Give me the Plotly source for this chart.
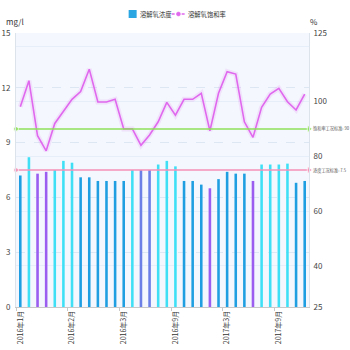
import plotly.graph_objects as go

# ---- data ----
concentration = [7.2, 8.2, 7.3, 7.4, 7.5, 8.0, 7.9, 7.1, 7.1, 6.9, 6.9, 6.9, 6.9, 7.5, 7.5, 7.5, 7.8,
                 8.0, 7.7, 6.9, 6.9, 6.7, 6.5, 7.0, 7.4, 7.3, 7.3, 6.9, 7.8, 7.8, 7.8, 7.85, 6.8, 6.9]
saturation = [98.1, 107.6, 87.5, 82.0, 92.0, 96.3, 100.8, 103.6, 111.8, 99.8, 99.8, 100.8, 90.0,
              90.0, 84.0, 87.8, 92.6, 99.7, 95.0, 100.8, 100.8, 103.0, 89.3, 103.0, 110.9, 110.0,
              92.6, 86.9, 97.9, 102.7, 104.8, 99.9, 96.9, 102.7]
tick_labels = ["2016年1月", "2016年2月", "2016年3月", "2016年9月", "2017年3月", "2017年9月"]
series_names = ["溶解氧浓度", "溶解氧饱和率"]
tick_every = 6
conc_standard = 7.5
sat_standard = 90
left_ticks = [0, 3, 6, 9, 12, 15]
right_ticks = [25, 40, 60, 80, 100, 120, 125]
right_tick_text = ["25", "40", "60", "80", "100", "", "125"]

# ---- styles ----
BLUE, CYAN, PURPLE, BPURPLE = "#1f9fe2", "#3fe0f6", "#9a5df0", "#6b7fe6"
bar_colors = [BLUE, CYAN, PURPLE, PURPLE, CYAN, CYAN, CYAN, BLUE, BLUE, BLUE, BLUE, BLUE, BLUE,
              CYAN, BPURPLE, BPURPLE, CYAN, CYAN, CYAN, BLUE, BLUE, BLUE, PURPLE, BLUE, BLUE,
              BLUE, BLUE, PURPLE, CYAN, CYAN, CYAN, CYAN, BLUE, BLUE]
LEG_BAR = "#2aa6e3"
LINE = "#e068ee"
FONT = "Noto Sans CJK SC"

W = H = 350
ML, MR, MT, MB = 16.4, 40.7, 33, 43
PW, PH = W - ML - MR, H - MT - MB


def px(xp):
    return (xp - ML) / PW


def py(yp):
    return (H - MB - yp) / PH


n = len(concentration)
x = list(range(n))
tick_pos = [i * tick_every for i in range(len(tick_labels))]
x0, x1 = -0.5, n - 0.5

fig = go.Figure()
fig.add_trace(go.Bar(x=x, y=concentration, name=series_names[0], width=0.3,
                     marker=dict(color=bar_colors, line=dict(width=0)), yaxis="y"))
fig.add_trace(go.Scatter(x=[x0, x1], y=[conc_standard, conc_standard], mode="lines+markers",
                         line=dict(color="#f590b6", width=1.5),
                         marker=dict(symbol=["circle", "triangle-right"], size=[5, 7], color="#f590b6"),
                         cliponaxis=False, yaxis="y", hoverinfo="skip"))
fig.add_trace(go.Scatter(x=x, y=saturation, mode="lines", line=dict(color="rgba(224,104,238,0.15)", width=5),
                         yaxis="y2", hoverinfo="skip"))
fig.add_trace(go.Scatter(x=x, y=saturation, mode="lines", name=series_names[1],
                         line=dict(color=LINE, width=1.6), yaxis="y2"))
fig.add_trace(go.Scatter(x=[x0, x1], y=[sat_standard, sat_standard], mode="lines+markers",
                         line=dict(color="#8ee05a", width=1.5),
                         marker=dict(symbol=["circle", "triangle-right"], size=[5, 7], color="#8ee05a"),
                         cliponaxis=False, yaxis="y2", hoverinfo="skip"))

fig.add_annotation(x=x1, y=sat_standard, xref="x", yref="y2", xanchor="left", xshift=2,
                   text=f"饱和率工况标准: {sat_standard}", showarrow=False,
                   font=dict(size=4.2, color="#555", family=FONT))
fig.add_annotation(x=x1, y=conc_standard, xref="x", yref="y", xanchor="left", xshift=2,
                   text=f"浓度工况标准: {conc_standard}", showarrow=False,
                   font=dict(size=4.2, color="#555", family=FONT))
fig.add_annotation(x=0, y=1, xref="paper", yref="paper", xanchor="right", yanchor="bottom",
                   xshift=10, yshift=4, text="mg/l", showarrow=False,
                   font=dict(size=8, color="#333", family=FONT))
fig.add_annotation(x=1, y=1, xref="paper", yref="paper", xanchor="left", yanchor="bottom",
                   xshift=-1, yshift=4, text="%", showarrow=False,
                   font=dict(size=8, color="#333", family=FONT))

# custom compact legend
fig.add_shape(type="rect", xref="paper", yref="paper", x0=px(129), x1=px(137), y0=py(18), y1=py(10),
              fillcolor=LEG_BAR, line=dict(width=0))
fig.add_annotation(x=px(138.5), y=py(14), xref="paper", yref="paper", xanchor="left", yanchor="middle",
                   text=series_names[0], showarrow=False, font=dict(size=6.3, color="#333", family=FONT))
fig.add_shape(type="line", xref="paper", yref="paper", x0=px(172), x1=px(185), y0=py(14), y1=py(14),
              line=dict(color=LINE, width=1.3, dash="3px,2px"))
fig.add_shape(type="circle", xref="paper", yref="paper", x0=px(176.8), x1=px(180.8), y0=py(16), y1=py(12),
              fillcolor=LINE, line=dict(color=LINE, width=0.5))
fig.add_annotation(x=px(186), y=py(14), xref="paper", yref="paper", xanchor="left", yanchor="middle",
                   text=series_names[1], showarrow=False, font=dict(size=6.3, color="#333", family=FONT))

fig.update_layout(
    width=W, height=H,
    margin=dict(l=ML, r=MR, t=MT, b=MB, pad=0, autoexpand=False),
    paper_bgcolor="white", plot_bgcolor="#f4f8fe",
    font=dict(family=FONT, size=8, color="#444"),
    bargap=0.7,
    showlegend=False,
    xaxis=dict(range=[x0, x1], tickmode="array", tickvals=tick_pos, ticktext=tick_labels,
               tickangle=-90, ticks="", showgrid=False, zeroline=False, automargin=False,
               showline=True, linecolor="#c8c8c8", linewidth=1,
               tickfont=dict(size=7, color="#333", family=FONT),
               minor=dict(tick0=-0.5, dtick=tick_every, ticks="outside", ticklen=3,
                          tickcolor="#c8c8c8", showgrid=False)),
    yaxis=dict(range=[0, 15], tickvals=left_ticks, showgrid=True, gridcolor="#dde7f4",
               griddash="dash", gridwidth=1, zeroline=False, showline=True, linecolor="#dde3ea",
               ticks="", tickfont=dict(size=8, color="#444"), ticklabelstandoff=3, automargin=False),
    yaxis2=dict(range=[25, 125], overlaying="y", side="right", tickvals=right_ticks,
                ticktext=right_tick_text, showgrid=True, gridcolor="#e6eef9", zeroline=False,
                showline=True, linecolor="#dde3ea", ticks="", automargin=False,
                tickfont=dict(size=8, color="#444"), ticklabelstandoff=2),
)

fig.write_html("out.html", config={"displayModeBar": False})
